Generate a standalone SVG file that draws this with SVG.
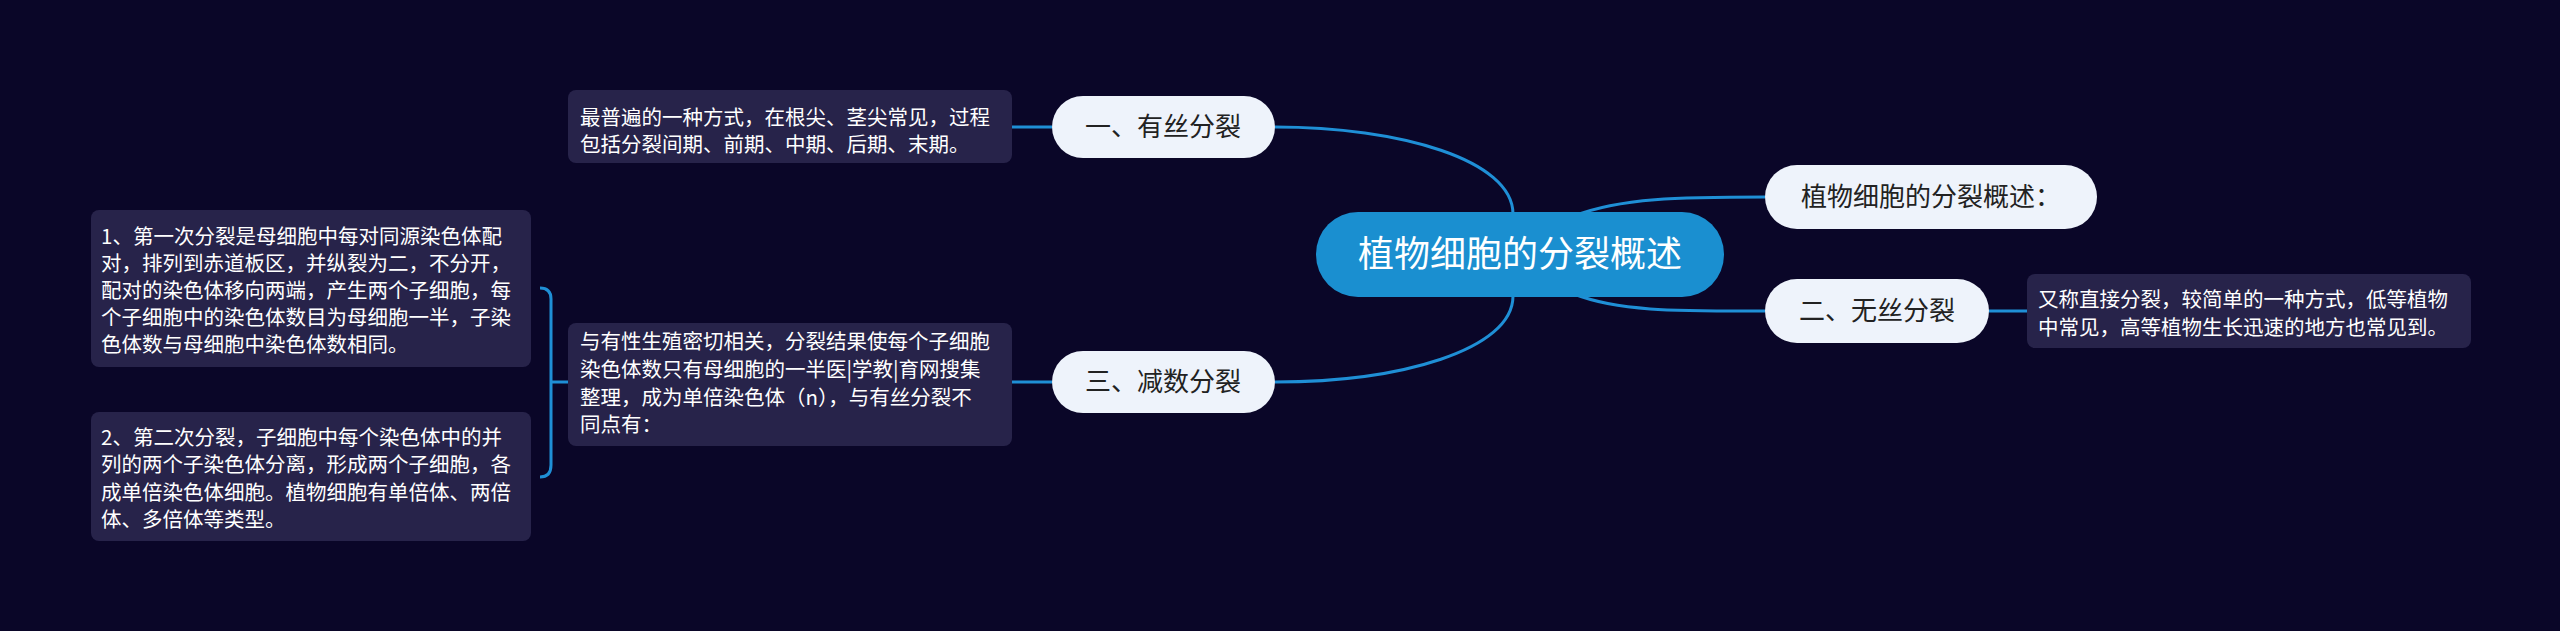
<svg xmlns="http://www.w3.org/2000/svg" width="2560" height="631" viewBox="0 0 2560 631">
<style>
text{font-family:"Noto Sans CJK SC","Noto Sans",sans-serif}
.c{fill:none;stroke:#1f8fd6;stroke-width:3}
.n{fill:#eef3fb}
.nt{font-size:26px;fill:#222}
.d{fill:#27234a}
.dt{font-size:20.5px;fill:#fff}
</style>
<rect width="2560" height="631" fill="#0a0628"/>
<g id="connectors">
<path class="c" d="M1513 214 C1513 160 1400 127 1275 127"/>
<path class="c" d="M1513 296 C1513 350 1400 382 1275 382"/>
<path class="c" d="M1574 216 C1620 198 1680 197 1765 197"/>
<path class="c" d="M1574 294 C1620 312 1680 311 1765 311"/>
<path class="c" d="M1052 127 H1012"/>
<path class="c" d="M1052 382 H1012"/>
<path class="c" d="M1989 311 H2027"/>
<path class="c" d="M568 382 H551 M540 288 Q551 288 551 299 V465 Q551 477 540 477"/>
</g>
<g id="root"><rect x="1316" y="212" width="408" height="85" rx="42" fill="#1a8fd0"/><text x="1520" y="267" font-size="36" fill="#fff" text-anchor="middle">植物细胞的分裂概述</text></g>
<g id="n-overview"><rect class="n" x="1765" y="165" width="332" height="64" rx="32"/><text class="nt" x="1931" y="206" text-anchor="middle">植物细胞的分裂概述：</text></g>
<g id="n-amitosis"><rect class="n" x="1765" y="279" width="224" height="64" rx="32"/><text class="nt" x="1877" y="320" text-anchor="middle">二、无丝分裂</text></g>
<g id="d-amitosis"><rect class="d" x="2027" y="274" width="444" height="74" rx="8"/><text class="dt" x="2038" y="307">又称直接分裂，较简单的一种方式，低等植物</text><text class="dt" x="2038" y="335">中常见，高等植物生长迅速的地方也常见到。</text></g>
<g id="n-mitosis"><rect class="n" x="1052" y="96" width="223" height="62" rx="31"/><text class="nt" x="1163" y="136" text-anchor="middle">一、有丝分裂</text></g>
<g id="d-mitosis"><rect class="d" x="568" y="90" width="444" height="73" rx="8"/><text class="dt" x="580" y="125">最普遍的一种方式，在根尖、茎尖常见，过程</text><text class="dt" x="580" y="152">包括分裂间期、前期、中期、后期、末期。</text></g>
<g id="n-meiosis"><rect class="n" x="1052" y="351" width="223" height="62" rx="31"/><text class="nt" x="1163" y="391" text-anchor="middle">三、减数分裂</text></g>
<g id="d-meiosis"><rect class="d" x="568" y="323" width="444" height="123" rx="8"/><text class="dt" x="580" y="349">与有性生殖密切相关，分裂结果使每个子细胞</text><text class="dt" x="580" y="377">染色体数只有母细胞的一半医|学教|育网搜集</text><text class="dt" x="580" y="405">整理，成为单倍染色体（n），与有丝分裂不</text><text class="dt" x="580" y="432">同点有：</text></g>
<g id="d-first"><rect class="d" x="91" y="210" width="440" height="157" rx="8"/><text class="dt" x="101" y="244">1、第一次分裂是母细胞中每对同源染色体配</text><text class="dt" x="101" y="271">对，排列到赤道板区，并纵裂为二，不分开，</text><text class="dt" x="101" y="298">配对的染色体移向两端，产生两个子细胞，每</text><text class="dt" x="101" y="325">个子细胞中的染色体数目为母细胞一半，子染</text><text class="dt" x="101" y="352">色体数与母细胞中染色体数相同。</text></g>
<g id="d-second"><rect class="d" x="91" y="412" width="440" height="129" rx="8"/><text class="dt" x="101" y="445">2、第二次分裂，子细胞中每个染色体中的并</text><text class="dt" x="101" y="472">列的两个子染色体分离，形成两个子细胞，各</text><text class="dt" x="101" y="500">成单倍染色体细胞。植物细胞有单倍体、两倍</text><text class="dt" x="101" y="527">体、多倍体等类型。</text></g>
</svg>
